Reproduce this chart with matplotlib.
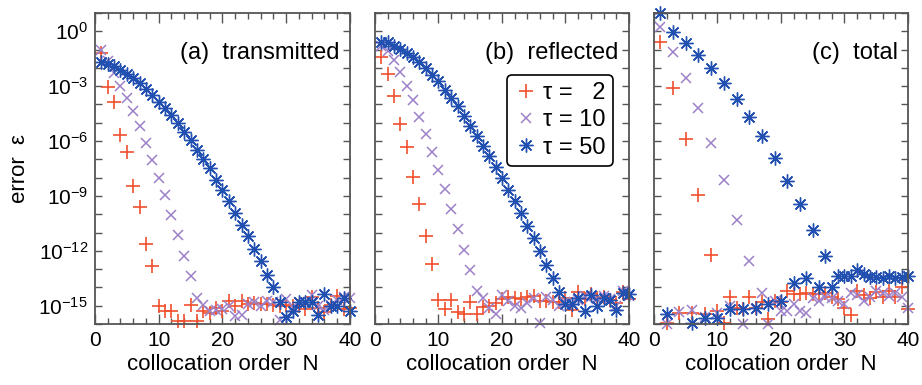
import numpy as np
import matplotlib
matplotlib.use("Agg")
import matplotlib.pyplot as plt
from matplotlib.ticker import FixedLocator, MultipleLocator, NullFormatter

plt.rcParams['font.family'] = ['Liberation Sans', 'DejaVu Sans']
plt.rcParams['mathtext.fontset'] = 'custom'
plt.rcParams['mathtext.rm'] = 'Liberation Sans'
plt.rcParams['mathtext.it'] = 'Liberation Sans:italic'

N = np.arange(1, 41)
nan = np.nan

# log10 of the error, N = 1..40
# (a) transmitted
tr_tau2 = [-1.19, -3.05, -3.89, -5.66, -6.57, -8.48, -9.61, -11.61, -12.85, -15.0,
           -15.3, -15.3, -15.82, -15.82, -14.95, -15.82, -15.3, -15.4, -15.15, -15.3,
           -14.75, -15.0, -14.75, -14.9, -14.85, -14.9, -14.9, -14.95, -15.0, -14.95,
           -15.0, -15.0, -15.2, -14.55, -15.1, -15.35, -14.95, -14.45, -15.2, -15.1]
tr_tau10 = [-1.01, -1.65, -2.28, -2.98, -3.65, -4.38, -5.16, -6.08, -7.02, -8.0,
            -8.95, -10.03, -11.12, -12.27, -13.40, -14.58, -14.95, -15.3, -15.25, -15.2,
            -15.0, -15.55, -15.5, -14.9, -14.8, -15.0, -14.75, -14.8, -15.8, -14.65,
            -15.05, -14.8, -14.8, -14.4, -15.0, -15.25, -14.95, -14.7, -14.55, -14.6]
tr_tau50 = [-1.68, -1.78, -1.92, -2.10, -2.32, -2.56, -2.83, -3.16, -3.47, -3.84,
            -4.20, -4.56, -5.02, -5.48, -5.93, -6.48, -6.97, -7.48, -8.12, -8.66,
            -9.25, -9.93, -10.57, -11.21, -11.90, -12.58, -13.31, -13.98, -14.82, -15.62,
            -15.31, -14.82, -14.82, -14.82, -15.49, -14.35, -15.0, -15.0, -14.6, -15.3]

# (b) reflected
rf_tau2 = [-1.38, -2.32, -3.56, -5.05, -6.35, -7.99, -9.43, -11.17, -12.70, -14.7,
           -15.18, -14.67, -15.35, -15.45, -14.82, -15.45, -15.05, -15.0, -14.85, -14.62,
           -14.55, -14.6, -14.63, -14.5, -14.45, -14.75, -14.75, -14.8, -14.8, -14.6,
           -15.25, -14.25, -14.65, -14.35, -14.6, -14.5, -14.7, -14.85, -14.25, -14.65]
rf_tau10 = [-0.8, -1.10, -1.56, -2.20, -2.98, -3.78, -4.69, -5.60, -6.57, -7.57,
            -8.62, -9.70, -10.79, -11.94, -13.03, -14.2, -14.6, -15.1, -15.45, -14.42,
            -14.75, -15.04, -15.13, -14.85, -14.6, -15.95, -14.5, -14.7, -15.04, -14.8,
            -14.85, -14.7, -14.45, -14.5, -14.65, -14.45, -14.65, -15.0, -14.2, -14.45]
rf_tau50 = [-0.56, -0.61, -0.79, -0.97, -1.16, -1.41, -1.70, -2.01, -2.38, -2.74,
            -3.20, -3.65, -4.11, -4.62, -5.16, -5.71, -6.26, -6.80, -7.39, -8.02,
            -8.66, -9.25, -9.93, -10.63, -11.30, -12.0, -12.76, -13.49, -14.27, -14.9,
            -14.93, -14.58, -15.31, -14.42, -15.0, -14.58, -14.67, -15.22, -14.29, -14.38]

# (c) total
tot_tau2 = [-0.61, -15.95, -3.10, -15.4, -5.89, -15.4, -8.93, -15.45, -12.25, -15.31,
            -15.95, -14.5, -15.15, -15.2, -14.5, -15.15, -14.8, -15.7, -14.75, -14.8,
            -14.2, -14.35, -14.35, -14.3, -14.35, -14.35, -14.3, -14.5, -14.65, -15.1,
            -15.5, -14.2, -14.4, -14.6, -14.25, -14.55, -14.2, -14.55, -14.0, -15.2]
tot_tau10 = [0.26, -16.0, -1.14, -15.35, -2.56, -15.25, -4.20, -15.6, -6.08, -15.4,
             -8.11, -15.0, -10.30, -16.0, -12.54, -15.2, -14.3, -16.0, -14.75, -15.3,
             -15.3, -14.9, -15.3, -15.4, -14.6, -14.75, -14.55, -14.6, -14.75, -14.9,
             -14.3, -14.4, -14.75, -14.5, -14.2, -14.3, -14.45, -14.3, -14.55, -15.1]
tot_tau50 = [0.99, -15.47, -0.04, nan, -0.65, -15.95, -1.28, -15.67, -2.01, -15.67,
             -2.80, -15.17, -3.69, -15.17, -4.69, -15.1, -5.75, -14.9, -6.93, -14.72,
             -8.19, -13.76, -9.43, -13.49, -10.85, -14.0, -12.27, -14.0, -13.35, -13.35,
             -13.35, -13.05, -13.25, -13.45, -13.45, -13.5, -13.35, -13.5, -13.45, -13.4]

panels = [
    ("(a)  transmitted", tr_tau2, tr_tau10, tr_tau50),
    ("(b)  reflected", rf_tau2, rf_tau10, rf_tau50),
    ("(c)  total", tot_tau2, tot_tau10, tot_tau50),
]
tau_labels = ["\u03c4 = \u20072", "\u03c4 = 10", "\u03c4 = 50"]

c_red = "#f0502d"
c_purple = "#9b80c8"
c_blue = "#2150b0"
axis_col = "#555555"

fig = plt.figure(figsize=(9.22, 3.85), dpi=100)
lefts = [0.103, 0.4067, 0.7093]
widths = [0.2766, 0.2755, 0.2755]
bottom, height = 0.1584, 0.8078

for k, (title, e2, e10, e50) in enumerate(panels):
    ax = fig.add_axes([lefts[k], bottom, widths[k], height])
    ax.set_yscale('log')
    ax.plot(N, 10**np.array(e2), ls='none', marker='+', ms=10, mew=1.2,
            color=c_red, clip_on=False, label=tau_labels[0])
    ax.plot(N, 10**np.array(e10), ls='none', marker='x', ms=7.5, mew=1.1,
            color=c_purple, clip_on=False, label=tau_labels[1])
    ax.plot(N, 10**np.array(e50), ls='none', marker=(8, 2, 0), ms=10, mew=1.0,
            color=c_blue, clip_on=False, label=tau_labels[2])

    ax.set_xlim(0, 40)
    ax.set_ylim(1e-16, 1e1)
    ax.xaxis.set_major_locator(MultipleLocator(10))
    ax.xaxis.set_minor_locator(MultipleLocator(2))
    ax.yaxis.set_major_locator(FixedLocator([10.0**p for p in range(0, -16, -3)]))
    ax.yaxis.set_minor_locator(FixedLocator([10.0**p for p in range(1, -17, -1)]))
    ax.yaxis.set_minor_formatter(NullFormatter())
    if k == 0:
        ax.set_yticklabels([r'$\mathregular{10^{%d}}$' % p for p in range(0, -16, -3)])
        ax.set_ylabel("error  \u03b5", fontsize=16, labelpad=6)
    else:
        ax.set_yticklabels([])
    ax.tick_params(which='both', direction='in', top=True, right=True,
                   color=axis_col, width=1.0, labelsize=15, pad=5)
    ax.tick_params(axis='x', which='major', length=7)
    ax.tick_params(axis='x', which='minor', length=4)
    ax.tick_params(axis='y', which='both', length=5)
    for sp in ax.spines.values():
        sp.set_color(axis_col)
        sp.set_linewidth(1.3)
    ax.set_xlabel("collocation order  N", fontsize=16, labelpad=3)
    ax.text(0.96, 0.87, title, transform=ax.transAxes, ha='right', va='center',
            fontsize=17)

    if k == 1:
        leg = ax.legend(loc='upper right', bbox_to_anchor=(0.937, 0.80),
                        borderaxespad=0, fontsize=17, handlelength=1.0,
                        handletextpad=0.25, borderpad=0.3, labelspacing=0.22,
                        fancybox=True, framealpha=1, edgecolor='black')
        leg.get_frame().set_linewidth(1.2)

fig.savefig("out.png", dpi=100)
